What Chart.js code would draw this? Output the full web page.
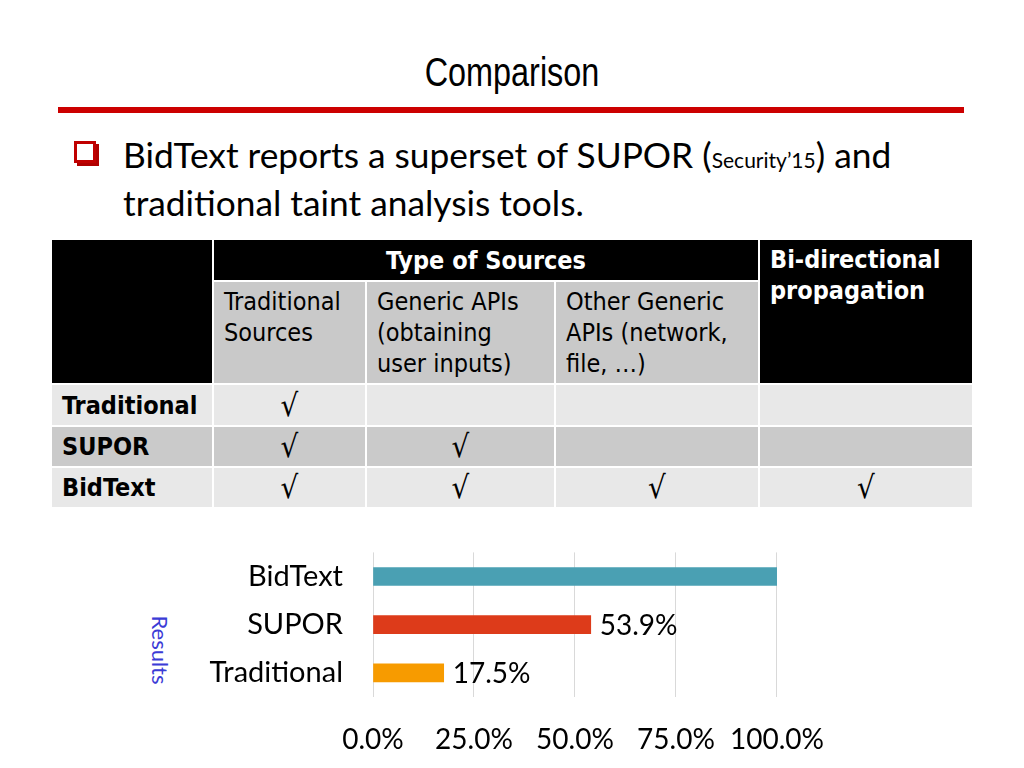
<!DOCTYPE html>
<html>
<head>
<meta charset="utf-8">
<script src="https://cdn.jsdelivr.net/npm/chart.js@4"></script>
<style>
  body { margin: 0; width: 1024px; height: 768px; background: #fff; position: relative; overflow: hidden; }
  .title { position: absolute; left: 0; width: 1024px; top: 50px; text-align: center;
           font-family: "Liberation Sans", sans-serif; font-size: 40px; color: #000;
           transform: scaleX(0.81); }
  .rule { position: absolute; left: 58px; top: 107px; width: 906px; height: 6px; background: #cc0000; }
  .bullet { position: absolute; left: 74px; top: 141px; width: 16px; height: 16px; border: 3px solid #c00000;
            box-shadow: 3px 3px 0 #b00000; background: #fff; }
  .text { position: absolute; left: 123px; top: 133px; font-family: Lato, "Open Sans", sans-serif;
          font-size: 35.3px; line-height: 43px; color: #000; }
  .text small { font-size: 21px; }
  table { position: absolute; left: 50px; top: 238px; border-collapse: separate; border-spacing: 2px;
          table-layout: fixed; font-family: "DejaVu Sans Condensed", "DejaVu Sans", sans-serif; }
  td { padding: 0; vertical-align: top; font-size: 25px; line-height: 31px; }
  .blk { background: #000; color: #fff; font-weight: bold; }
  .sub { background: #c9c9c9; padding: 4px 10px; }
  .lt { background: #e8e8e8; }
  .dk { background: #cacaca; }
  .rl { font-weight: bold; padding-left: 10px; vertical-align: middle; }
  .ck { text-align: center; vertical-align: middle; font-size: 31px; }
  .results { position: absolute; left: 160px; top: 650px; transform: translate(-50%, -50%) rotate(90deg);
             font-family: Lato, sans-serif; font-size: 22px; color: #3b3bd6; }
  #chart { position: absolute; left: 130px; top: 505px; }
</style>
</head>
<body>
<div class="title">Comparison</div>
<div class="rule"></div>
<div class="bullet"></div>
<div class="text">BidText reports a superset of SUPOR (<small>Security’15</small>) and<br>traditional taint analysis tools.</div>

<table>
  <colgroup><col style="width:160px"><col style="width:151px"><col style="width:187px"><col style="width:202px"><col style="width:212px"></colgroup>
  <tr style="height:40px">
    <td class="blk" rowspan="2"></td>
    <td class="blk" colspan="3" style="text-align:center;vertical-align:middle">Type of Sources</td>
    <td class="blk" rowspan="2" style="padding:4px 10px">Bi-directional propagation</td>
  </tr>
  <tr style="height:99px">
    <td class="sub">Traditional Sources</td>
    <td class="sub">Generic APIs (obtaining user inputs)</td>
    <td class="sub">Other Generic APIs (network, file, …)</td>
  </tr>
  <tr style="height:40px">
    <td class="rl lt">Traditional</td><td class="ck lt">√</td><td class="lt"></td><td class="lt"></td><td class="lt"></td>
  </tr>
  <tr style="height:39px">
    <td class="rl dk">SUPOR</td><td class="ck dk">√</td><td class="ck dk">√</td><td class="dk"></td><td class="dk"></td>
  </tr>
  <tr style="height:39px">
    <td class="rl lt">BidText</td><td class="ck lt">√</td><td class="ck lt">√</td><td class="ck lt">√</td><td class="ck lt">√</td>
  </tr>
</table>

<div class="results">Results</div>
<canvas id="chart" width="720" height="263"></canvas>

<script>
// Data for the bar chart
const tools = ['BidText', 'SUPOR', 'Traditional'];
const coverage = [100, 53.9, 17.5];
const valueLabels = ['', '53.9%', '17.5%'];
const barColors = ['#4aa0b3', '#dd3b1a', '#f79b00'];
const xTicks = ['0.0%', '25.0%', '50.0%', '75.0%', '100.0%'];

const fontFamily = 'Lato, "Open Sans", sans-serif';

// Draw value labels at the end of each bar
const endLabels = {
    id: 'endLabels',
    afterDatasetsDraw(chart) {
        const ctx = chart.ctx;
        const meta = chart.getDatasetMeta(0);
        ctx.save();
        ctx.font = '28px ' + fontFamily;
        ctx.fillStyle = '#000';
        ctx.textBaseline = 'middle';
        meta.data.forEach((bar, i) => {
            if (valueLabels[i]) ctx.fillText(valueLabels[i], bar.x + 9, bar.y + 1);
        });
        ctx.restore();
    }
};

new Chart(document.getElementById('chart'), {
    type: 'bar',
    data: {
        labels: tools,
        datasets: [{
            data: coverage,
            backgroundColor: barColors,
            barThickness: 18
        }]
    },
    options: {
        indexAxis: 'y',
        responsive: false,
        animation: false,
        layout: { padding: { top: 13, right: 73, left: 0, bottom: 0 } },
        plugins: { legend: { display: false }, tooltip: { enabled: false } },
        scales: {
            x: {
                min: 0,
                max: 100,
                afterFit(scale) { scale.height = 71; },
                afterBuildTicks(scale) {
                    scale.ticks = xTicks.map((t, i) => ({ value: i * 25 }));
                },
                ticks: {
                    padding: 26,
                    maxRotation: 0,
                    color: '#000',
                    font: { family: fontFamily, size: 28 },
                    callback: (v, i) => xTicks[i]
                },
                grid: { color: '#d9d9d9', drawTicks: false },
                border: { display: false }
            },
            y: {
                afterFit(scale) { scale.width = 243; },
                ticks: {
                    padding: 30,
                    color: '#000',
                    font: { family: fontFamily, size: 29 }
                },
                grid: { display: false, drawTicks: false },
                border: { display: false }
            }
        }
    },
    plugins: [endLabels]
});
</script>
</body>
</html>
